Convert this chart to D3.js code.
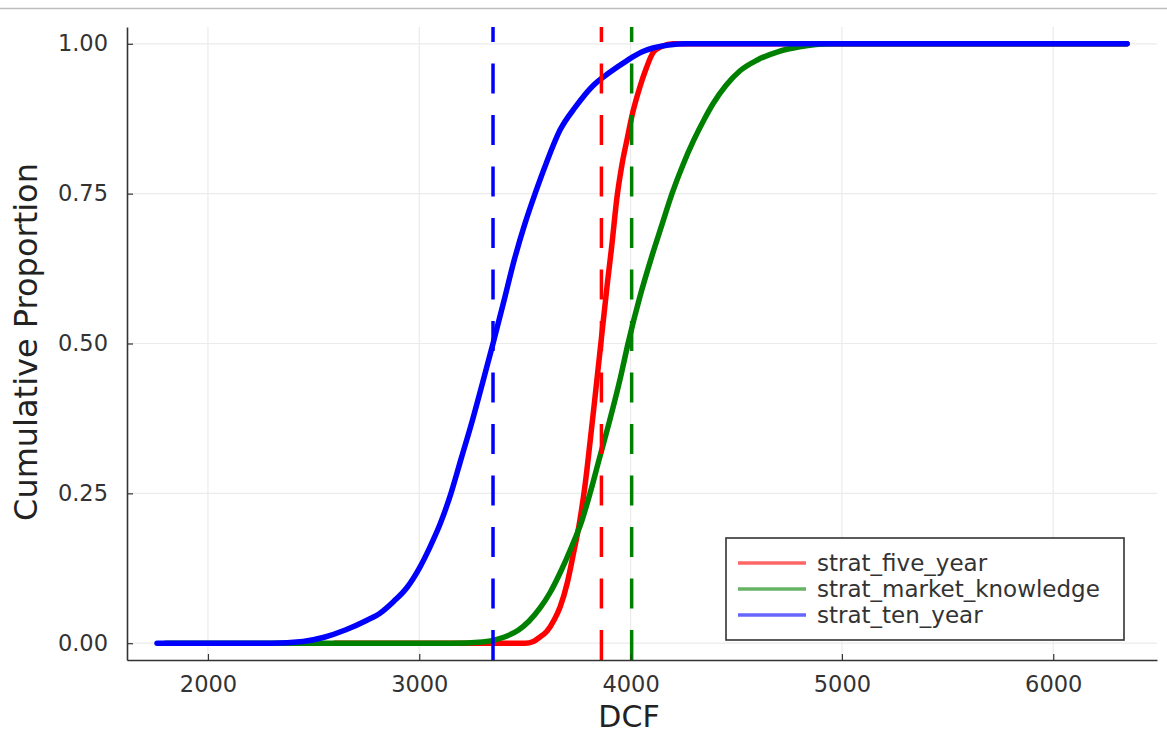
<!DOCTYPE html>
<html>
<head>
<meta charset="utf-8">
<script src="https://cdn.jsdelivr.net/npm/d3@7"></script>
<style>
  body { margin: 0; background: #fff; }
  svg { display: block; font-family: "DejaVu Sans", sans-serif; }
</style>
</head>
<body>
<div id="chartContainer"></div>
<script>
// series names (legend order)
const seriesNames = ['strat_five_year', 'strat_market_knowledge', 'strat_ten_year'];

const fiveYearDcf = [2600, 3500, 3540, 3570, 3604, 3640, 3666, 3700, 3727, 3760, 3785, 3808, 3830, 3850, 3870, 3890, 3910, 3936, 3960, 3983, 4010, 4044, 4075, 4106, 4150, 4201, 6349];
const fiveYearProp = [0, 0, 0.003, 0.01, 0.02, 0.04, 0.06, 0.10, 0.145, 0.205, 0.265, 0.335, 0.405, 0.47, 0.535, 0.60, 0.66, 0.745, 0.80, 0.84, 0.885, 0.928, 0.96, 0.985, 0.996, 1, 1];

const marketDcf = [1800, 3150, 3300, 3400, 3470, 3520, 3570, 3620, 3670, 3720, 3770, 3808, 3850, 3900, 3950, 3988, 4044, 4100, 4150, 4196, 4250, 4300, 4350, 4390, 4450, 4518, 4600, 4700, 4800, 4944, 6349];
const marketProp = [0, 0, 0.002, 0.01, 0.022, 0.037, 0.058, 0.085, 0.12, 0.16, 0.205, 0.25, 0.305, 0.37, 0.44, 0.50, 0.578, 0.645, 0.70, 0.75, 0.80, 0.84, 0.875, 0.90, 0.93, 0.955, 0.973, 0.987, 0.995, 1, 1];

const tenYearDcf = [1759, 2300, 2450, 2550, 2650, 2750, 2814, 2880, 2942, 3000, 3050, 3100, 3150, 3200, 3250, 3300, 3349, 3400, 3450, 3500, 3548, 3600, 3666, 3740, 3822, 3900, 3983, 4050, 4106, 4180, 4267, 6349];
const tenYearProp = [0, 0, 0.003, 0.01, 0.022, 0.038, 0.05, 0.07, 0.093, 0.125, 0.16, 0.20, 0.25, 0.31, 0.37, 0.435, 0.50, 0.57, 0.64, 0.70, 0.75, 0.80, 0.856, 0.895, 0.93, 0.952, 0.972, 0.986, 0.993, 0.998, 1, 1];

// mean DCF per strategy (dashed verticals)
const meanDcf = [3862, 4005, 3349];

// tick labels
const xTicks = [2000, 3000, 4000, 5000, 6000];
const yTicks = [0, 0.25, 0.5, 0.75, 1];

const colors = ['#ff0000', '#008000', '#0000ff'];

const svgWidth = 1167;
const svgHeight = 736;
const plot = { left: 127, right: 1157, top: 27, bottom: 660 };

const svg = d3.select('#chartContainer')
    .append('svg')
    .attr('width', svgWidth)
    .attr('height', svgHeight);

// thin line at the top of the screenshot
svg.append('line')
    .attr('x1', 0).attr('x2', svgWidth)
    .attr('y1', 8.5).attr('y2', 8.5)
    .attr('stroke', '#bdbdbd')
    .attr('stroke-width', 1.5);

const xScale = d3.scaleLinear()
    .domain([1617, 6491])
    .range([plot.left, plot.right]);

const yScale = d3.scaleLinear()
    .domain([-0.028, 1.028])
    .range([plot.bottom, plot.top]);

// grid
svg.append('g')
    .attr('class', 'x-grid')
    .selectAll('line')
    .data(xTicks)
    .join('line')
    .attr('x1', d => xScale(d)).attr('x2', d => xScale(d))
    .attr('y1', plot.top).attr('y2', plot.bottom)
    .attr('stroke', '#ebebeb')
    .attr('stroke-width', 1.2);

svg.append('g')
    .attr('class', 'y-grid')
    .selectAll('line')
    .data(yTicks)
    .join('line')
    .attr('x1', plot.left).attr('x2', plot.right)
    .attr('y1', d => yScale(d)).attr('y2', d => yScale(d))
    .attr('stroke', '#ebebeb')
    .attr('stroke-width', 1.2);

// curves
const seriesData = [
    d3.zip(fiveYearDcf, fiveYearProp),
    d3.zip(marketDcf, marketProp),
    d3.zip(tenYearDcf, tenYearProp)
];

const line = d3.line()
    .x(d => xScale(d[0]))
    .y(d => yScale(d[1]))
    .curve(d3.curveMonotoneX);

svg.append('g')
    .attr('class', 'curves')
    .selectAll('path')
    .data(seriesData)
    .join('path')
    .attr('d', line)
    .attr('fill', 'none')
    .attr('stroke', (d, i) => colors[i])
    .attr('stroke-width', 5.5)
    .attr('stroke-linejoin', 'round')
    .attr('stroke-linecap', 'round');

// mean lines
svg.append('g')
    .attr('class', 'means')
    .selectAll('line')
    .data(meanDcf)
    .join('line')
    .attr('x1', d => xScale(d)).attr('x2', d => xScale(d))
    .attr('y1', plot.bottom).attr('y2', plot.top)
    .attr('stroke', (d, i) => colors[i])
    .attr('stroke-width', 3.5)
    .attr('stroke-dasharray', '30,21.5');

// axes
const xAxis = d3.axisBottom(xScale)
    .tickValues(xTicks)
    .tickFormat(d3.format('d'))
    .tickSizeInner(-6)
    .tickSizeOuter(0)
    .tickPadding(16);

const yAxis = d3.axisLeft(yScale)
    .tickValues(yTicks)
    .tickFormat(d3.format('.2f'))
    .tickSizeInner(-6)
    .tickSizeOuter(0)
    .tickPadding(19);

const gx = svg.append('g')
    .attr('class', 'x-axis')
    .attr('transform', `translate(0, ${plot.bottom})`)
    .call(xAxis);

const gy = svg.append('g')
    .attr('class', 'y-axis')
    .attr('transform', `translate(${plot.left}, 0)`)
    .call(yAxis);

[gx, gy].forEach(g => {
    g.select('.domain').attr('stroke', '#333').attr('stroke-width', 1.6);
    g.selectAll('.tick line').attr('stroke', '#333').attr('stroke-width', 1.2);
    g.selectAll('.tick text')
        .attr('fill', '#333')
        .style('font-size', '22.5px')
        .style('font-family', '"DejaVu Sans", sans-serif');
});

// axis titles
svg.append('text')
    .attr('class', 'axis-title')
    .attr('x', 629)
    .attr('y', 727)
    .attr('text-anchor', 'middle')
    .attr('fill', '#222')
    .style('font-size', '30px')
    .text('DCF');

svg.append('text')
    .attr('class', 'axis-title')
    .attr('transform', 'translate(37, 342) rotate(-90)')
    .attr('text-anchor', 'middle')
    .attr('fill', '#222')
    .style('font-size', '32px')
    .text('Cumulative Proportion');

// legend
const legend = svg.append('g')
    .attr('class', 'legend')
    .attr('transform', 'translate(726, 538)');

legend.append('rect')
    .attr('width', 398)
    .attr('height', 102)
    .attr('fill', '#fff')
    .attr('stroke', '#333')
    .attr('stroke-width', 1.6);

const items = legend.selectAll('.item')
    .data(seriesNames)
    .join('g')
    .attr('class', 'item')
    .attr('transform', (d, i) => `translate(0, ${25 + i * 26})`);

items.append('line')
    .attr('x1', 12).attr('x2', 80)
    .attr('stroke', (d, i) => colors[i])
    .attr('stroke-opacity', 0.6)
    .attr('stroke-width', 3.5);

items.append('text')
    .attr('x', 91)
    .attr('dy', '0.35em')
    .attr('fill', '#333')
    .style('font-size', '23px')
    .text(d => d);
</script>
</body>
</html>
